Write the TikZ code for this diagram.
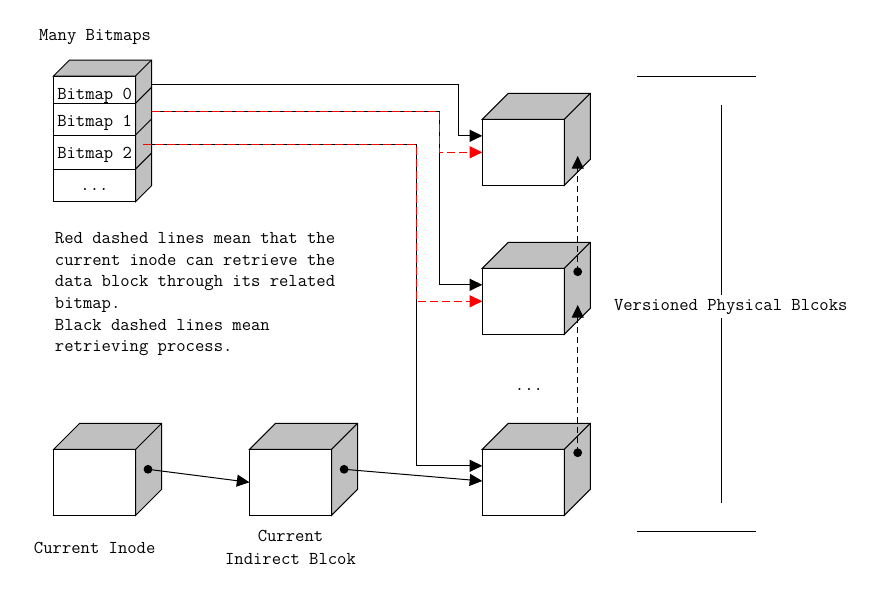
\documentclass[tikz,border=0pt]{standalone}
\usepackage{fontspec}
\usetikzlibrary{arrows.meta,calc}
\definecolor{cubegray}{HTML}{C0C0C0}
\newcommand{\mycube}[3]{%
  \node[face, minimum width=61.5pt, minimum height=49.5pt] (#1) at (#2) {};
  \draw[fill=cubegray] (#1.north west) -- ++(#3,-#3) -- ++(82,0) -- ++(0,66) -- (#1.south east) -- (#1.north east) -- cycle;
  \draw (#1.north east) -- ++(#3,-#3);
}
\begin{document}
\begin{tikzpicture}[x=0.75pt,y=-0.75pt, line width=0.75pt,
  txt/.style={inner sep=0pt, outer sep=0pt, font=\ttfamily\fontsize{13.6}{16.25}\selectfont},
  face/.style={draw, fill=white, inner sep=0pt, outer sep=0pt},
  row/.style={face, minimum width=61.5pt},
  arr/.style={-{Triangle[length=9.5pt,width=9pt]}},
  reddash/.style={draw=red, dash pattern=on 6pt off 3pt},
  blackdash/.style={dash pattern=on 4.5pt off 3pt},
  dot/.style={fill=black},
]
\useasboundingbox (0,0) rectangle (879,614);

% ---- bitmap stack ----
\node[row, minimum height=20.5pt] (r0) at (94.5,89.7) {};
\node[row, minimum height=23.8pt] (r1) at (94.5,119.2) {};
\node[row, minimum height=25.5pt] (r2) at (94.5,152) {};
\node[row, minimum height=24.5pt] (r3) at (94.5,185.4) {};
\draw[fill=cubegray] (r0.north west) -- ++(16,-16) -- ++(82,0) -- ++(0,125.7) -- (r3.south east) -- (r0.north east) -- cycle;
\foreach \r in {r0,r1,r2,r3} \draw (\r.north east) -- ++(16,-16);
\node[txt, anchor=base west] (l0) at (57.3,99) {Bitmap 0};
\node[txt, anchor=base west] (l1) at (57.3,126) {Bitmap 1};
\node[txt, anchor=base west] (l2) at (57.3,158.3) {Bitmap 2};
\node[txt, anchor=base] (l3) at (94.5,190) {...};
\node[txt, anchor=base west] (many) at (39,40.7) {Many Bitmaps};

% ---- cubes ----
\mycube{blk1}{523.3,152.3}{26}
\mycube{blk2}{523.3,301.3}{26}
\mycube{blk3}{523.3,482.3}{26}
\mycube{inode}{94.7,482.3}{26}
\mycube{ind}{290.5,482.3}{26}

% ---- texts ----
\node[txt, anchor=base west, align=left] (note) at (55,351.7) {Red dashed lines mean that the\\current inode can retrieve the\\data block through its related\\bitmap.\\Black dashed lines mean\\retrieving process.};
\node[txt, anchor=base] (inodelbl) at (94.7,553.3) {Current Inode};
\node[txt, anchor=base, align=center, font=\ttfamily\fontsize{13.6}{16.7}\selectfont] (indlbl) at (290.5,564) {Current\\Indirect Blcok};
\node[txt, anchor=base] (more) at (529,390) {...};
\node[txt, anchor=base west] (vpb) at (614,310.7) {Versioned Physical Blcoks};

% ---- bracket ----
\coordinate (bt1) at (637.3,76.7); \coordinate (bt2) at (755.7,76.7);
\coordinate (bb1) at (637.3,531); \coordinate (bb2) at (755.7,531);
\coordinate (v1) at (721,105); \coordinate (v2) at (721,295);
\coordinate (v3) at (721,318); \coordinate (v4) at (721,503.3);
\draw (bt1) -- (bt2);
\draw (bb1) -- (bb2);
\draw (v1) -- (v2);
\draw (v3) -- (v4);

% ---- connector points ----
\coordinate (s0) at (152,84.3);
\coordinate (s1) at (152,111);
\coordinate (s2) at (143.3,144.3);
\coordinate (k0) at (458.3,84.3);
\coordinate (k1) at (439.3,111);
\coordinate (k2) at (416.7,144.3);
\coordinate (e1a) at ($(blk1.north west)!0.25!(blk1.south west)$);
\coordinate (e1b) at ($(blk1.north west)!0.5!(blk1.south west)$);
\coordinate (e2a) at ($(blk2.north west)!0.25!(blk2.south west)$);
\coordinate (e2b) at ($(blk2.north west)!0.5!(blk2.south west)$);
\coordinate (e3a) at ($(blk3.north west)!0.25!(blk3.south west)$);
\coordinate (e3b) at ($(blk3.north west)!0.48!(blk3.south west)$);
\coordinate (d0) at ($(inode.north east)+(12.3,20)$);
\coordinate (d1) at ($(ind.north east)+(12.6,20)$);
\coordinate (d2) at ($(blk2.north east)+(13.4,3.4)$);
\coordinate (d3) at ($(blk3.north east)+(13.4,3.4)$);
\coordinate (t1) at ($(blk1.north east)+(13.4,36.7)$);
\coordinate (t2) at ($(blk2.north east)+(13.4,36.7)$);

% ---- connectors ----
\draw[arr] (s0) -- (k0) |- (e1a);
\draw[arr] (s1) -- (k1) |- (e2a);
\draw[arr] (s2) -- (k2) |- (e3a);
\draw[arr, reddash] (s1) -- (k1) |- (e1b);
\draw[arr, reddash] (s2) -- (k2) |- (e2b);
\draw[arr] (d0) -- (ind.west);
\draw[arr] (d1) -- (e3b);
\draw[arr, blackdash] (d3) -- (t2);
\draw[arr, blackdash] (d2) -- (t1);
\foreach \d in {d0,d1,d2,d3} \fill[dot] (\d) circle [radius=3.3pt];
\end{tikzpicture}
\end{document}
